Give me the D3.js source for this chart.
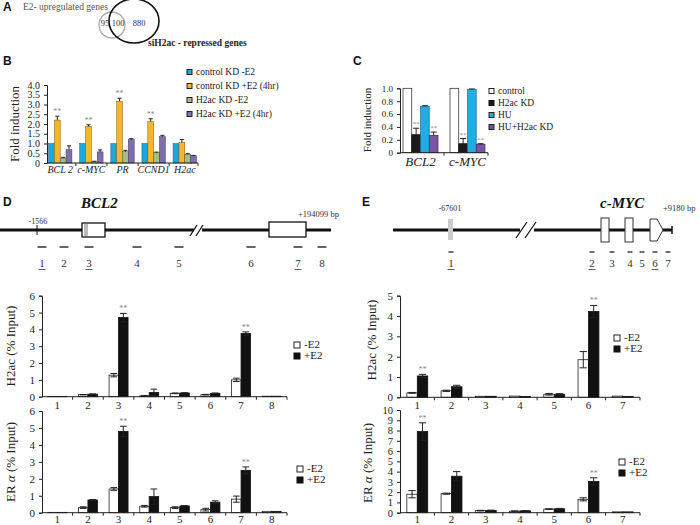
<!DOCTYPE html>
<html><head><meta charset="utf-8">
<script src="https://cdn.jsdelivr.net/npm/d3@7/dist/d3.min.js"></script>
<style>body{margin:0;background:#fff}svg{display:block}text{font-family:"Liberation Serif","Times New Roman",serif}</style>
</head><body><svg id="c" width="700" height="525"></svg>
<script>
// ---------- DATA ----------
const vennCounts = ["95","100","880"];
const bGenes = ["BCL 2","c-MYC","PR","CCND1","H2ac"];
const bSeriesNames = ["control KD -E2","control KD +E2 (4hr)","H2ac KD -E2","H2ac KD +E2 (4hr)"];
const bCtrlMinus = [1,1,1,1,1];
const bCtrlPlus = [2.2,1.88,3.17,2.12,1.05];
const bKdMinus = [0.25,0.07,0.58,0.53,0.45];
const bKdPlus = [0.68,0.57,1.2,1.35,0.37];
const bErrCtrlMinus = [0,0,0,0,0];
const bErrCtrlPlus = [0.2,0.08,0.15,0.15,0.15];
const bErrKdMinus = [0.04,0.02,0.07,0.03,0.03];
const bErrKdPlus = [0.2,0.1,0.05,0.07,0.02];
const bStars = [[],[0,1,2,3],[],[]];
const bTicks = [0,0.5,1,1.5,2,2.5,3,3.5,4];

const cGenes = ["BCL2","c-MYC"];
const cSeriesNames = ["control","H2ac KD","HU","HU+H2ac KD"];
const cControl = [1,1];
const cKD = [0.28,0.14];
const cHU = [0.72,0.98];
const cHUKD = [0.27,0.13];
const cErrControl = [0,0];
const cErrKD = [0.1,0.08];
const cErrHU = [0.01,0.01];
const cErrHUKD = [0.05,0.01];
const cStars = [[],[0,1],[],[0,1]];
const cTicks = [0,0.2,0.4,0.6,0.8,1.0];

const dSites = ["1","2","3","4","5","6","7","8"];
const dH2acMinus = [0.02,0.12,1.28,0.05,0.2,0.12,1.0,0.03];
const dH2acMinusErr = [0,0.01,0.1,0.02,0.02,0.02,0.1,0];
const dH2acPlus = [0.02,0.15,4.7,0.25,0.22,0.2,3.75,0.03];
const dH2acPlusErr = [0,0.01,0.25,0.2,0.02,0.02,0.1,0];
const dH2acStars = [2,6];
const dERMinus = [0.02,0.3,1.4,0.38,0.3,0.18,0.8,0.08];
const dERMinusErr = [0,0.05,0.08,0.05,0.05,0.08,0.18,0];
const dERPlus = [0.02,0.75,4.8,0.95,0.4,0.62,2.5,0.08];
const dERPlusErr = [0,0.03,0.3,0.45,0.02,0.08,0.2,0];
const dERStars = [2,6];
const dTicks = [0,1,2,3,4,5,6];

const eSites = ["1","2","3","4","5","6","7"];
const eH2acMinus = [0.22,0.32,0.05,0.06,0.15,1.85,0.06];
const eH2acMinusErr = [0.02,0.03,0,0,0.04,0.4,0];
const eH2acPlus = [1.05,0.52,0.05,0.04,0.15,4.22,0.04];
const eH2acPlusErr = [0.08,0.07,0,0,0.03,0.3,0];
const eH2acStars = [0,5];
const eERMinus = [1.8,1.85,0.2,0.15,0.35,1.3,0.08];
const eERMinusErr = [0.35,0.05,0.03,0.02,0.03,0.15,0];
const eERPlus = [7.9,3.55,0.22,0.18,0.38,3.05,0.08];
const eERPlusErr = [0.85,0.45,0.03,0.02,0.04,0.35,0];
const eERStars = [0,5];
const eH2acTicks = [0,1,2,3,4,5];
const eERTicks = [0,1,2,3,4,5,6,7,8,9,10];

const e2Legend = ["-E2","+E2"];
const dAmplicons = [42,64,89,137,179,251,298,322];
const dUnderlined = ["1","3","7"];
const eAmplicons = [451,592,612,630,642,655,668];
const eUnderlined = ["1","2","6"];

// ---------- DRAWING ----------
const svg = d3.select("#c");
const TXT = "#222";

function letter(t,x,y){
  svg.append("text").attr("x",x).attr("y",y).text(t)
    .style("font-family","Liberation Sans, Arial, sans-serif").style("font-weight","bold").style("font-size","12px").attr("fill","#111");
}

function barChart(o){
  const g = svg.append("g");
  const y = d3.scaleLinear().domain(o.yDomain).range([o.y0,o.y1]);
  const x = d3.scaleBand().domain(o.cats).range([o.x0,o.x1]).paddingInner(o.pi).paddingOuter(o.po);
  const xi = d3.scaleBand().domain(d3.range(o.series.length)).range([0,x.bandwidth()]);
  o.series.forEach((vals,si)=>{
    const errs = o.errs[si];
    vals.forEach((v,ci)=>{
      const bx = x(o.cats[ci]) + xi(si), bw = xi.bandwidth();
      g.append("rect").attr("x",bx).attr("y",y(v)).attr("width",bw).attr("height",y(0)-y(v))
        .attr("fill",o.fills[si]).attr("stroke",o.strokes[si]).attr("stroke-width",o.sw||0.8);
      const e = errs[ci];
      if(e>0){
        const cx = bx+bw/2, cw = Math.max(2,bw*0.35);
        const lo = o.upOnly ? v : v-e;
        g.append("line").attr("x1",cx).attr("x2",cx).attr("y1",y(lo)).attr("y2",y(v+e)).attr("stroke","#222").attr("stroke-width",1);
        g.append("line").attr("x1",cx-cw).attr("x2",cx+cw).attr("y1",y(v+e)).attr("y2",y(v+e)).attr("stroke","#222").attr("stroke-width",1);
        if(!o.upOnly) g.append("line").attr("x1",cx-cw).attr("x2",cx+cw).attr("y1",y(v-e)).attr("y2",y(v-e)).attr("stroke","#222").attr("stroke-width",1);
      }
    });
  });
  o.stars.forEach((list,si)=>{
    list.forEach(ci=>{
      const v = o.series[si][ci]+o.errs[si][ci];
      const bx = x(o.cats[ci]) + xi(si) + xi.bandwidth()/2;
      g.append("text").attr("x",bx).attr("y",y(v)-2).attr("text-anchor","middle")
        .style("font-size",o.starSize||"9px").attr("fill","#888").text("**");
    });
  });
  const ya = d3.axisLeft(y).tickValues(o.ticks).tickSize(3).tickFormat(o.fmt);
  const ag = g.append("g").attr("transform",`translate(${o.x0},0)`).call(ya);
  ag.select(".domain").attr("stroke","#222");
  ag.selectAll(".tick line").attr("stroke","#222");
  ag.selectAll("text").style("font-family","Liberation Serif, serif").style("font-size",o.tickSize).attr("fill",TXT).attr("dx","-1");
  g.append("line").attr("x1",o.x0).attr("x2",o.x1).attr("y1",y(0)).attr("y2",y(0)).attr("stroke","#222");
  const bounds = o.cats.map(c=>x(c)-x.step()*x.paddingInner()/2).slice(1).concat([o.x1]);
  bounds.forEach(b=>g.append("line").attr("x1",b).attr("x2",b).attr("y1",y(0)).attr("y2",y(0)+3).attr("stroke","#222"));
  o.cats.forEach(c=>{
    g.append("text").attr("x",x(c)+x.bandwidth()/2+(o.lblDx||0)).attr("y",o.lblY).attr("text-anchor","middle")
      .style("font-size",o.lblSize).style("font-style",o.italic?"italic":"normal").attr("fill",TXT).text(c);
  });
  const yt = g.append("text").attr("transform",`translate(${o.ytX},${o.ytY}) rotate(-90)`).attr("text-anchor","middle")
    .style("font-size",o.ytSize).attr("fill",TXT);
  if(o.ytParts){ o.ytParts.forEach(p=>yt.append("tspan").style("font-style",p[1]?"italic":"normal").text(p[0])); }
  else yt.text(o.yTitle);
  return g;
}

function legend(names,fills,strokes,x,y0,dy,size,sq){
  names.forEach((n,i)=>{
    svg.append("rect").attr("x",x).attr("y",y0+i*dy-sq/2-3).attr("width",sq).attr("height",sq)
      .attr("fill",fills[i]).attr("stroke",strokes[i]).attr("stroke-width",1);
    svg.append("text").attr("x",x+sq+4).attr("y",y0+i*dy).style("font-size",size).attr("fill",TXT).text(n);
  });
}

// ---- Panel A ----
letter("A",3,11);
svg.append("text").attr("x",23).attr("y",10).style("font-size","9.5px").attr("fill","#555").text("E2- upregulated genes");
svg.append("ellipse").attr("cx",112).attr("cy",25).attr("rx",13).attr("ry",13).attr("fill","none").attr("stroke","#aaa").attr("stroke-width",1.3);
svg.append("ellipse").attr("cx",134).attr("cy",21).attr("rx",25).attr("ry",22).attr("fill","none").attr("stroke","#111").attr("stroke-width",1.6);
[[105,vennCounts[0]],[118,vennCounts[1]],[139,vennCounts[2]]].forEach(d=>
  svg.append("text").attr("x",d[0]).attr("y",26).attr("text-anchor","middle").style("font-size","8.5px").attr("fill","#333").text(d[1]));
svg.append("text").attr("x",148).attr("y",46).style("font-size","9.5px").style("font-weight","bold").attr("fill","#222").text("siH2ac - repressed genes");

// ---- Panel B ----
letter("B",3,65);
barChart({cats:bGenes, series:[bCtrlMinus,bCtrlPlus,bKdMinus,bKdPlus], errs:[bErrCtrlMinus,bErrCtrlPlus,bErrKdMinus,bErrKdPlus],
  fills:["#1ba9dc","#f6b62a","#a8bd82","#7f6fa8"], strokes:["#1a5a80","#7a5a10","#4c5a3a","#3a3060"], sw:0.5, upOnly:true,
  stars:bStars, yDomain:[0,4], y0:163, y1:85, x0:47, x1:198, pi:0.25, po:0.05,
  ticks:bTicks, fmt:d=>d===0?"0":d3.format(".1f")(d), tickSize:"10px",
  lblY:173, lblSize:"10px", italic:true, ytX:19, ytY:124, yTitle:"Fold induction", ytSize:"13px", starSize:"8px"});
legend(bSeriesNames,["#1ba9dc","#f6b62a","#a8bd82","#7f6fa8"],["#222","#222","#222","#222"],187,75,14,"9.5px",5);

// ---- Panel C ----
letter("C",353,65);
barChart({cats:cGenes, series:[cControl,cKD,cHU,cHUKD], errs:[cErrControl,cErrKD,cErrHU,cErrHUKD],
  fills:["#fff","#1a1a1a","#22ade2","#7b55a2"], strokes:["#222","#111","#1a6e90","#3a2a60"], sw:0.7, upOnly:true,
  stars:cStars, yDomain:[0,1], y0:152.7, y1:88.3, x0:400, x1:488, pi:0.255, po:0.064,
  ticks:cTicks, fmt:d=>d===0?"0":d3.format(".1f")(d), tickSize:"9px",
  lblY:166, lblSize:"13px", italic:true, ytX:371, ytY:120, yTitle:"Fold induction", ytSize:"11px", starSize:"7px"});
legend(cSeriesNames,["#fff","#1a1a1a","#22ade2","#7b55a2"],["#222","#111","#222","#222"],489,94,12,"9.5px",5);

// ---- Panel D diagram ----
letter("D",3,206);
svg.append("text").attr("x",81).attr("y",208).style("font-size","15px").style("font-weight","bold").style("font-style","italic").attr("fill","#111").text("BCL2");
svg.append("line").attr("x1",0).attr("x2",331).attr("y1",230).attr("y2",230).attr("stroke","#111").attr("stroke-width",3);
svg.append("line").attr("x1",37).attr("x2",37).attr("y1",225).attr("y2",235).attr("stroke","#111").attr("stroke-width",1);
svg.append("text").attr("x",38).attr("y",224).attr("text-anchor","middle").style("font-size","8px").attr("fill","#333").text("-1566");
svg.append("rect").attr("x",82).attr("y",223).attr("width",23).attr("height",14).attr("fill","#fff").attr("stroke","#111").attr("stroke-width",1.3);
svg.append("rect").attr("x",84).attr("y",224).attr("width",4).attr("height",12).attr("fill","#bbb");
svg.append("rect").attr("x",269).attr("y",222).attr("width",37).attr("height",15).attr("fill","#fff").attr("stroke","#111").attr("stroke-width",1.3);
svg.append("rect").attr("x",194).attr("y",226).attr("width",8).attr("height",8).attr("fill","#fff");
[[190,236,197,225],[196,236,203,225]].forEach(d=>svg.append("line").attr("x1",d[0]).attr("y1",d[1]).attr("x2",d[2]).attr("y2",d[3]).attr("stroke","#111").attr("stroke-width",1.3));
svg.append("text").attr("x",298).attr("y",217).style("font-size","8.5px").attr("fill","#333").text("+194099 bp");
dAmplicons.forEach((cx,i)=>{
  svg.append("line").attr("x1",cx-4.5).attr("x2",cx+4.5).attr("y1",247).attr("y2",247).attr("stroke","#111").attr("stroke-width",1.3);
  const lbl = dSites[i];
  svg.append("text").attr("x",cx).attr("y",267).attr("text-anchor","middle").style("font-size","11px").attr("fill","#333").text(lbl);
  if(dUnderlined.includes(lbl)) svg.append("line").attr("x1",cx-3.5).attr("x2",cx+3.5).attr("y1",269.5).attr("y2",269.5).attr("stroke","#333").attr("stroke-width",0.8);
});

// ---- Panel E diagram ----
letter("E",362,206);
svg.append("text").attr("x",600).attr("y",208).style("font-size","15px").style("font-weight","bold").style("font-style","italic").attr("fill","#111").text("c-MYC");
svg.append("line").attr("x1",393).attr("x2",672).attr("y1",230).attr("y2",230).attr("stroke","#111").attr("stroke-width",3);
svg.append("rect").attr("x",448).attr("y",219).attr("width",5).attr("height",21).attr("fill","#ccc");
svg.append("text").attr("x",450).attr("y",211).attr("text-anchor","middle").style("font-size","8px").attr("fill","#333").text("-67601");
svg.append("rect").attr("x",520).attr("y",226).attr("width",14).attr("height",8).attr("fill","#fff");
[[516,238,527,222],[525,238,536,222]].forEach(d=>svg.append("line").attr("x1",d[0]).attr("y1",d[1]).attr("x2",d[2]).attr("y2",d[3]).attr("stroke","#111").attr("stroke-width",1.3));
svg.append("rect").attr("x",601).attr("y",218).attr("width",8).attr("height",24).attr("fill","#fff").attr("stroke","#333").attr("stroke-width",1);
svg.append("rect").attr("x",625).attr("y",218).attr("width",8).attr("height",24).attr("fill","#fff").attr("stroke","#333").attr("stroke-width",1);
svg.append("polygon").attr("points","650,219 657,219 663,230 657,241 650,241").attr("fill","#fff").attr("stroke","#333").attr("stroke-width",1);
svg.append("line").attr("x1",672).attr("x2",672).attr("y1",226).attr("y2",234).attr("stroke","#111").attr("stroke-width",1.5);
svg.append("text").attr("x",663).attr("y",211).style("font-size","8.5px").attr("fill","#333").text("+9180 bp");
eAmplicons.forEach((cx,i)=>{
  svg.append("line").attr("x1",cx-2.5).attr("x2",cx+2.5).attr("y1",252).attr("y2",252).attr("stroke","#111").attr("stroke-width",1.2);
  const lbl = eSites[i];
  svg.append("text").attr("x",cx).attr("y",267).attr("text-anchor","middle").style("font-size","11px").attr("fill","#333").text(lbl);
  if(eUnderlined.includes(lbl)) svg.append("line").attr("x1",cx-3.5).attr("x2",cx+3.5).attr("y1",269.5).attr("y2",269.5).attr("stroke","#333").attr("stroke-width",0.8);
});

// ---- D charts ----
const wbFill = ["#fff","#111"], wbStroke = ["#222","#111"];
barChart({cats:dSites, series:[dH2acMinus,dH2acPlus], errs:[dH2acMinusErr,dH2acPlusErr], fills:wbFill, strokes:wbStroke, sw:0.8,
  stars:[[],dH2acStars], yDomain:[0,6], y0:396.7, y1:295.7, x0:42, x1:287, pi:0.38, po:0.19,
  ticks:dTicks, fmt:d3.format("d"), tickSize:"11px", lblY:409, lblSize:"11px", italic:false,
  ytX:15, ytY:346, yTitle:"H2ac (% Input)", ytSize:"13px", starSize:"8px"});
legend(e2Legend,wbFill,wbStroke,294,348,11,"11px",6);
barChart({cats:dSites, series:[dERMinus,dERPlus], errs:[dERMinusErr,dERPlusErr], fills:wbFill, strokes:wbStroke, sw:0.8,
  stars:[[],dERStars], yDomain:[0,6], y0:512.7, y1:411, x0:42, x1:287, pi:0.38, po:0.19,
  ticks:dTicks, fmt:d3.format("d"), tickSize:"11px", lblY:523, lblSize:"11px", italic:false,
  ytX:15, ytY:462, ytParts:[["ER ",false],["α",true],[" (% Input)",false]], ytSize:"13px", starSize:"8px"});
legend(e2Legend,wbFill,wbStroke,297,472,11,"11px",6);

// ---- E charts ----
barChart({cats:eSites, series:[eH2acMinus,eH2acPlus], errs:[eH2acMinusErr,eH2acPlusErr], fills:wbFill, strokes:wbStroke, sw:0.8,
  stars:[[],eH2acStars], yDomain:[0,5], y0:397.3, y1:295.7, x0:400, x1:640, pi:0.39, po:0.2,
  ticks:eH2acTicks, fmt:d3.format("d"), tickSize:"11px", lblY:409, lblSize:"11px", italic:false,
  ytX:376, ytY:340, yTitle:"H2ac (% Input)", ytSize:"13px", starSize:"8px"});
legend(e2Legend,wbFill,wbStroke,614,341,11,"11px",6);
barChart({cats:eSites, series:[eERMinus,eERPlus], errs:[eERMinusErr,eERPlusErr], fills:wbFill, strokes:wbStroke, sw:0.8,
  stars:[[],eERStars], yDomain:[0,10], y0:512.7, y1:410, x0:400, x1:640, pi:0.39, po:0.2,
  ticks:eERTicks, fmt:d3.format("d"), tickSize:"10.5px", lblY:523, lblSize:"11px", italic:false,
  ytX:372, ytY:463, ytParts:[["ER ",false],["α",true],[" (% Input)",false]], ytSize:"13px", starSize:"8px"});
legend(e2Legend,wbFill,wbStroke,619,465,11,"11px",6);
</script></body></html>
